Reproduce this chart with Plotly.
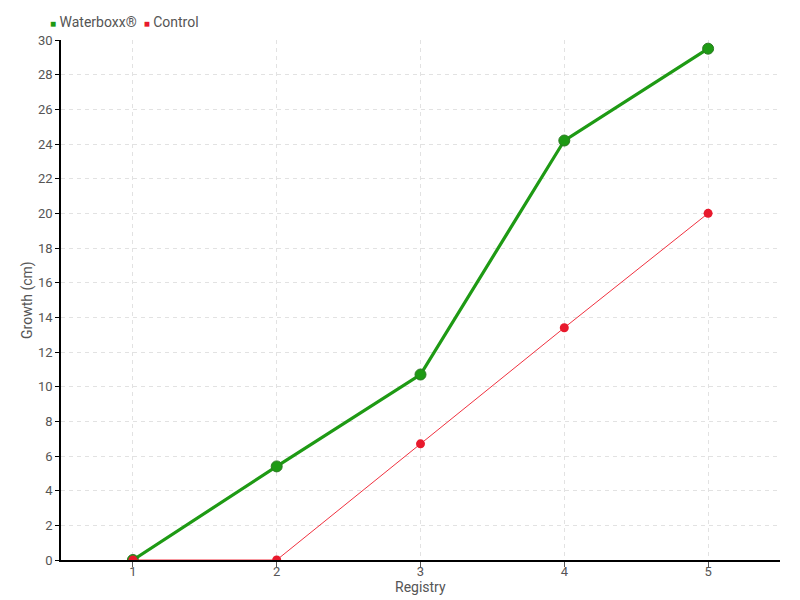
import plotly.graph_objects as go

registry = [1, 2, 3, 4, 5]
waterboxx = [0, 5.4, 10.7, 24.2, 29.5]
control = [0, 0, 6.7, 13.4, 20.0]
series_names = ["Waterboxx®", "Control"]
x_title = "Registry"
y_title = "Growth (cm)"

FONT = "Roboto, sans-serif"
GREEN = "#1e9a14"
RED = "#e8192c"
TXT = "#555555"

fig = go.Figure()
fig.add_trace(go.Scatter(
    x=registry, y=waterboxx, name=series_names[0], mode="lines+markers",
    line=dict(color=GREEN, width=3.2),
    marker=dict(size=11, color=GREEN, line=dict(color="#2a7a22", width=1)),
    showlegend=False,
))
fig.add_trace(go.Scatter(
    x=registry, y=control, name=series_names[1], mode="lines+markers",
    line=dict(color="#f0313f", width=1),
    marker=dict(size=9, color=RED, line=dict(width=0)),
    showlegend=False,
))

legend_text = (f'<span style="color:{GREEN};font-size:10px">■</span> {series_names[0]}  '
               f'<span style="color:{RED};font-size:10px">■</span> {series_names[1]}')
fig.add_annotation(text=legend_text, xref="paper", yref="paper", x=-0.018, y=1.0,
                   yshift=18, xanchor="left", yanchor="middle", showarrow=False,
                   font=dict(size=14, color=TXT))
fig.add_annotation(text=x_title, xref="paper", yref="paper", x=0.5, y=0, yshift=-27,
                   xanchor="center", yanchor="middle", showarrow=False,
                   font=dict(size=14, color=TXT))
fig.add_annotation(text=y_title, xref="paper", yref="paper", x=0, xshift=-34, y=0.5,
                   textangle=-90, xanchor="center", yanchor="middle", showarrow=False,
                   font=dict(size=14, color=TXT))

grid = dict(showgrid=True, gridcolor="#e2e2e2", griddash="4px,4px", gridwidth=1)

fig.update_layout(
    width=800, height=600,
    margin=dict(l=61, r=20, t=40, b=40, autoexpand=False),
    paper_bgcolor="white", plot_bgcolor="white",
    font=dict(family=FONT, size=14, color=TXT),
    showlegend=False,
    xaxis=dict(
        range=[0.5, 5.5], tickvals=registry, ticktext=[str(v) for v in registry],
        showline=True, linecolor="black", linewidth=1.5,
        ticks="outside", ticklen=5, tickcolor=TXT,
        ticklabelstandoff=-6, tickfont=dict(size=13, color=TXT),
        zeroline=False, automargin=False, **grid,
    ),
    yaxis=dict(
        range=[0, 30], dtick=2,
        showline=True, linecolor="black", linewidth=1.5,
        ticks="outside", ticklen=4, tickcolor="black",
        tickfont=dict(size=13, color=TXT),
        zeroline=False, automargin=False, **grid,
    ),
)

fig.write_html("out.html", config={"displayModeBar": False},
               post_script="document.body.style.margin='0';")
